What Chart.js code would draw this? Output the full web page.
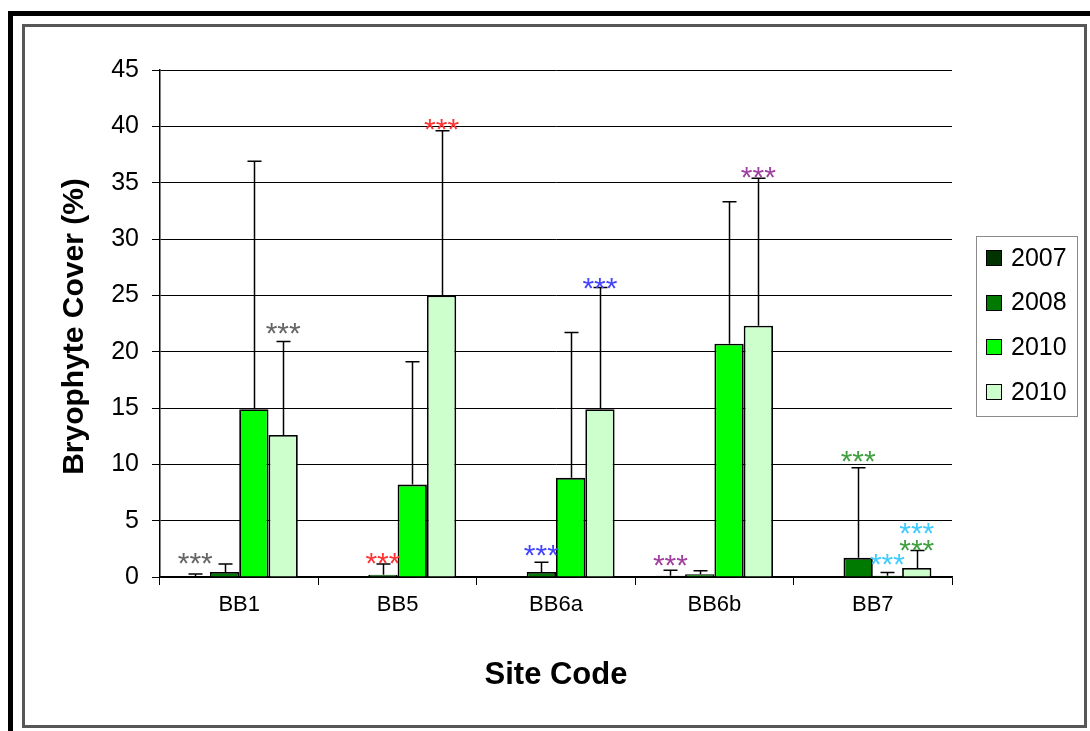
<!DOCTYPE html>
<html><head><meta charset="utf-8">
<script src="https://cdn.jsdelivr.net/npm/chart.js@4/dist/chart.umd.min.js"></script>
<style>
html,body{margin:0;padding:0;background:#fff;}
#wrap{position:relative;width:1090px;height:731px;overflow:hidden;background:#fff;}
.bt{position:absolute;left:8px;top:11px;width:1082px;height:5px;background:#000;}
.bl{position:absolute;left:8px;top:11px;width:5px;height:720px;background:#000;}
.box{position:absolute;left:22px;top:24px;width:1059px;height:698px;border:3px solid #575757;}
canvas{position:absolute;left:0;top:0;}
</style></head>
<body>
<div id="wrap"><div class="bt"></div><div class="bl"></div><div class="box"></div>
<canvas id="c" width="1090" height="731"></canvas></div>
<script>
// ---- data ----
const categories = ['BB1', 'BB5', 'BB6a', 'BB6b', 'BB7'];
const seriesLabels = ['2007', '2008', '2010', '2010'];
const v2007  = [0,    0,    0.05, 0.1,  0];
const v2008  = [0.45, 0.2,  0.45, 0.25, 1.7];
const v2010  = [14.9, 8.2,  8.8,  20.7, 0.1];
const v2010b = [12.6, 25.0, 14.9, 22.3, 0.8];
// upper error (added on top of the bar value)
const e2007  = [0.27, 0,    0,    0.5,  0];
const e2008  = [0.7,  0.95, 0.85, 0.3,  8.0];
const e2010  = [22.0, 10.9, 12.9, 12.6, 0.3];
const e2010b = [8.3,  14.6, 10.8, 13.1, 1.55];
const yTicks = [0, 5, 10, 15, 20, 25, 30, 35, 40, 45];
// significance labels: category index, series index, level (data units), colour
const sigCat    = [0, 0, 1, 1, 2, 2, 3, 3, 4, 4, 4, 4];
const sigSeries = [0, 3, 1, 3, 1, 3, 0, 3, 1, 2, 3, 3];
const sigLevel  = [1.9, 22.3, 1.9, 40.4, 2.6, 26.3, 1.7, 36.1, 10.9, 1.8, 4.5, 3.0];
const sigColor  = ['#666666', '#666666', '#ff3333', '#ff3333', '#4444ff', '#4444ff',
                   '#a040a0', '#a040a0', '#40a040', '#40ccff', '#40ccff', '#40a040'];

const colors = ['#003300', '#007a00', '#00ff00', '#ccffcc'];
const values = [v2007, v2008, v2010, v2010b];
const errors = [e2007, e2008, e2010, e2010b];

const FONT = "'Liberation Sans', Arial, sans-serif";
Chart.defaults.font.family = FONT;

const errorBars = {
  id: 'errorBars',
  afterDatasetsDraw(chart) {
    const ctx = chart.ctx, ys = chart.scales.y;
    ctx.save();
    ctx.strokeStyle = '#000';
    ctx.lineWidth = 1.5;
    chart.data.datasets.forEach((ds, i) => {
      const meta = chart.getDatasetMeta(i);
      meta.data.forEach((bar, j) => {
        const e = errors[i][j];
        if (!e) return;
        const yTop = ys.getPixelForValue(values[i][j] + e);
        const x = Math.round(bar.x) + 0.5;
        ctx.beginPath();
        ctx.moveTo(x, bar.y);
        ctx.lineTo(x, yTop);
        ctx.moveTo(x - 7, yTop);
        ctx.lineTo(x + 7, yTop);
        ctx.stroke();
      });
    });
    ctx.restore();
  }
};

const sigMarks = {
  id: 'sigMarks',
  afterDraw(chart) {
    const ctx = chart.ctx, ys = chart.scales.y;
    ctx.save();
    ctx.font = '30px ' + FONT;
    ctx.textAlign = 'center';
    ctx.textBaseline = 'alphabetic';
    for (let k = 0; k < sigCat.length; k++) {
      const bar = chart.getDatasetMeta(sigSeries[k]).data[sigCat[k]];
      const y = ys.getPixelForValue(sigLevel[k]);
      ctx.fillStyle = sigColor[k];
      ctx.fillText('***', bar.x, y + 17);
    }
    ctx.restore();
  }
};

const legendBox = {
  id: 'legendBox',
  afterDraw(chart) {
    const ctx = chart.ctx;
    ctx.save();
    ctx.strokeStyle = '#8a8a8a';
    ctx.lineWidth = 1;
    ctx.strokeRect(976.5, 236.5, 101, 180);
    ctx.font = '25px ' + FONT;
    ctx.textBaseline = 'middle';
    ctx.textAlign = 'left';
    chart.data.datasets.forEach((ds, i) => {
      const cy = 258 + i * 44.6;
      ctx.fillStyle = ds.backgroundColor;
      ctx.fillRect(986, Math.round(cy) - 8, 16, 16);
      ctx.strokeStyle = '#000';
      ctx.strokeRect(986.5, Math.round(cy) - 7.5, 15, 15);
      ctx.fillStyle = '#000';
      ctx.fillText(ds.label, 1011, cy + 1);
    });
    ctx.restore();
  }
};

const axisTitles = {
  id: 'axisTitles',
  afterDraw(chart) {
    const ctx = chart.ctx, a = chart.chartArea;
    ctx.save();
    ctx.fillStyle = '#000';
    ctx.font = 'bold 31px ' + FONT;
    ctx.textAlign = 'center';
    ctx.textBaseline = 'alphabetic';
    ctx.fillText('Site Code', (a.left + a.right) / 2, 684);
    ctx.font = 'bold 30px ' + FONT;
    ctx.translate(83, (a.top + a.bottom) / 2 + 3);
    ctx.rotate(-Math.PI / 2);
    ctx.fillText('Bryophyte Cover (%)', 0, 0);
    ctx.restore();
  }
};

new Chart(document.getElementById('c'), {
  type: 'bar',
  data: {
    labels: categories,
    datasets: values.map((v, i) => ({
      label: seriesLabels[i],
      data: v,
      backgroundColor: colors[i],
      borderColor: '#000',
      borderWidth: 1.8,
      barPercentage: 1.0,
      categoryPercentage: 0.74
    }))
  },
  options: {
    responsive: false,
    animation: false,
    devicePixelRatio: 1,
    layout: { padding: { left: 0, top: 70, right: 138, bottom: 0 } },
    plugins: { legend: { display: false }, tooltip: { enabled: false } },
    scales: {
      x: {
        ticks: { color: '#000', font: { size: 22 }, padding: 7 },
        grid: { drawOnChartArea: false, drawTicks: true, tickLength: 8, color: '#000', offset: true },
        border: { color: '#000', width: 1.5 },
        afterFit(s) { s.height = 154; }
      },
      y: {
        min: 0, max: 45,
        afterBuildTicks(s) { s.ticks = yTicks.map(v => ({ value: v })); },
        ticks: { color: '#000', font: { size: 25 }, padding: 13 },
        grid: { color: '#000', lineWidth: 1, tickLength: 8, drawTicks: true },
        border: { color: '#000', width: 1.5 },
        afterFit(s) { s.width = 160; }
      }
    }
  },
  plugins: [errorBars, sigMarks, legendBox, axisTitles]
});
</script>
</body></html>
